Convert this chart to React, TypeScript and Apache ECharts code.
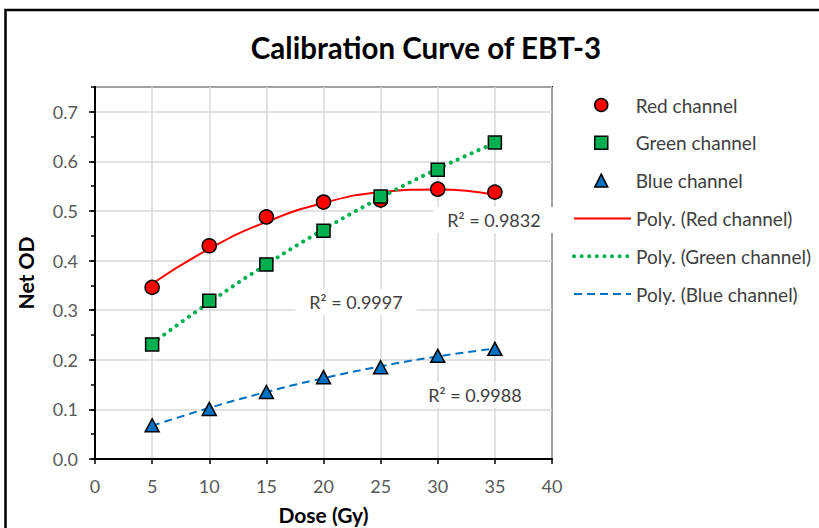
import React, { useEffect, useRef } from "react";
import * as echarts from "echarts";

const doses = [5, 10, 15, 20, 25, 30, 35];
const redValues = [0.346, 0.430, 0.488, 0.518, 0.522, 0.544, 0.538];
const greenValues = [0.231, 0.319, 0.392, 0.460, 0.529, 0.583, 0.638];
const blueValues = [0.068, 0.101, 0.135, 0.165, 0.185, 0.208, 0.222];
const xTicks = [0, 5, 10, 15, 20, 25, 30, 35, 40];
const yTickLabels = ["0.0", "0.1", "0.2", "0.3", "0.4", "0.5", "0.6", "0.7"];
const seriesNames = ["Red channel", "Green channel", "Blue channel"];
const trendNames = ["Poly. (Red channel)", "Poly. (Green channel)", "Poly. (Blue channel)"];
const r2Labels = ["R² = 0.9832", "R² = 0.9997", "R² = 0.9988"];

// least-squares quadratic fit (Excel "Poly." order 2 trendline), evaluated at the doses
function quadFit(xs: number[], ys: number[]): number[] {
  const n = xs.length;
  let s1 = 0, s2 = 0, s3 = 0, s4 = 0, t0 = 0, t1 = 0, t2 = 0;
  for (let i = 0; i < n; i++) {
    const x = xs[i], y = ys[i];
    s1 += x; s2 += x * x; s3 += x * x * x; s4 += x * x * x * x;
    t0 += y; t1 += x * y; t2 += x * x * y;
  }
  const M = [
    [n, s1, s2, t0],
    [s1, s2, s3, t1],
    [s2, s3, s4, t2],
  ];
  for (let c = 0; c < 3; c++) {
    let p = c;
    for (let r = c + 1; r < 3; r++) if (Math.abs(M[r][c]) > Math.abs(M[p][c])) p = r;
    [M[c], M[p]] = [M[p], M[c]];
    for (let r = 0; r < 3; r++) {
      if (r === c) continue;
      const f = M[r][c] / M[c][c];
      for (let k = c; k < 4; k++) M[r][k] -= f * M[c][k];
    }
  }
  const a = M[0][3] / M[0][0], b = M[1][3] / M[1][1], cc = M[2][3] / M[2][2];
  return xs.map((x) => a + b * x + cc * x * x);
}

const FONT = "Lato, 'Noto Sans', sans-serif";

export default function App() {
  const ref = useRef<HTMLDivElement>(null);
  useEffect(() => {
    if (!ref.current) return;
    const chart = echarts.init(ref.current, undefined, { renderer: "svg" });
    const pair = (vals: number[]) => doses.map((d, i) => [d, vals[i]]);
    const redFit = quadFit(doses, redValues);
    const greenFit = quadFit(doses, greenValues);
    const blueFit = quadFit(doses, blueValues);

    const r2Style = {
      fill: "#404040",
      fontSize: 18,
      fontFamily: FONT,
      backgroundColor: "#ffffff",
      padding: [4, 14, 4, 14],
      align: "center",
      verticalAlign: "middle",
    };

    const hiddenSymbol = {
      color: "rgba(0,0,0,0)",
      borderColor: "rgba(0,0,0,0)",
      borderWidth: 0,
      opacity: 0,
    };
    const redLine = { color: "#ff0000", width: 2 };
    const greenLine = { color: "#00b050", width: 4, type: [0.1, 7.5], cap: "round" };
    const blueLine = { color: "#0070c0", width: 2, type: [8, 5] };
    const trendLines = [redLine, greenLine, blueLine];

    const legendText = { fontSize: 19, color: "#404040", lineHeight: 19, fontFamily: FONT };
    const ROW = 37.8;
    const LEGEND_TOP = 95.5;

    chart.setOption({
      animation: false,
      backgroundColor: "#ffffff",
      textStyle: { fontFamily: FONT },
      title: {
        text: "Calibration Curve of EBT-3",
        left: 421,
        top: 27,
        textAlign: "center",
        textStyle: { fontSize: 29.5, fontWeight: "bold", color: "#000000", fontFamily: FONT },
      },
      legend: [
        {
          orient: "vertical",
          left: 594,
          top: LEGEND_TOP,
          padding: 0,
          itemWidth: 13,
          itemHeight: 13,
          itemGap: ROW - 19,
          itemStyle: { borderColor: "#000000", borderWidth: 1.5 },
          textStyle: { ...legendText, padding: [0, 0, 0, 23] },
          data: seriesNames,
        },
        {
          orient: "vertical",
          left: 572,
          top: LEGEND_TOP + 3 * ROW,
          padding: 0,
          itemWidth: 57,
          itemHeight: 13,
          itemGap: ROW - 19,
          textStyle: { ...legendText },
          data: trendNames.map((name, i) => ({ name, itemStyle: hiddenSymbol, lineStyle: trendLines[i] })),
        },
      ],
      grid: {
        left: 95,
        right: 267,
        top: 87,
        bottom: 69,
        show: true,
        borderColor: "#000000",
        borderWidth: 2,
        backgroundColor: "transparent",
        outerBoundsMode: "none",
        containLabel: false,
      },
      xAxis: {
        type: "value",
        min: xTicks[0],
        max: xTicks[xTicks.length - 1],
        interval: 5,
        name: "Dose (Gy)",
        nameLocation: "middle",
        nameGap: 45,
        nameTextStyle: { fontSize: 21, fontWeight: "bold", color: "#000000", fontFamily: FONT },
        axisLine: { show: true, lineStyle: { color: "#000000", width: 2 } },
        axisTick: { show: true, length: 5, lineStyle: { color: "#000000", width: 1.5 } },
        axisLabel: { fontSize: 18, color: "#595959", margin: 18, fontFamily: FONT },
        splitLine: { show: true, lineStyle: { color: "#d9d9d9", width: 1.5 } },
      },
      yAxis: [
        {
          type: "value",
          min: 0,
          max: 0.75,
          interval: 0.1,
          name: "Net OD",
          nameLocation: "middle",
          nameGap: 59,
          nameRotate: 90,
          nameTextStyle: { fontSize: 21, fontWeight: "bold", color: "#000000", fontFamily: FONT },
          axisLine: { show: true, lineStyle: { color: "#000000", width: 2 } },
          axisTick: { show: true, length: 6, lineStyle: { color: "#000000", width: 1.5 } },
          axisLabel: {
            fontSize: 18,
            color: "#595959",
            margin: 17,
            fontFamily: FONT,
            showMaxLabel: false,
            formatter: (v: number) => {
              const idx = Math.round(v * 10);
              return Math.abs(v * 10 - idx) < 1e-6 && idx < yTickLabels.length ? yTickLabels[idx] : "";
            },
          },
          splitLine: { show: true, lineStyle: { color: "#d9d9d9", width: 1.5 } },
        },
        {
          type: "value",
          min: 0,
          max: 0.75,
          interval: 0.05,
          position: "left",
          axisLine: { show: false },
          axisTick: { show: true, length: 4, lineStyle: { color: "#000000", width: 1.5 } },
          axisLabel: { show: false },
          splitLine: { show: false },
        },
      ],
      series: [
        {
          name: trendNames[0],
          type: "line",
          data: pair(redFit),
          smooth: 0.5,
          symbol: "none",
          lineStyle: redLine,
          itemStyle: { color: "#ff0000" },
          z: 2,
        },
        {
          name: trendNames[1],
          type: "line",
          data: pair(greenFit),
          smooth: 0.5,
          symbol: "none",
          lineStyle: greenLine,
          itemStyle: { color: "#00b050" },
          z: 2,
        },
        {
          name: trendNames[2],
          type: "line",
          data: pair(blueFit),
          smooth: 0.5,
          symbol: "none",
          lineStyle: blueLine,
          itemStyle: { color: "#0070c0" },
          z: 2,
        },
        {
          name: seriesNames[0],
          type: "scatter",
          data: pair(redValues),
          symbol: "circle",
          symbolSize: 14,
          itemStyle: { color: "#ff0000", borderColor: "#000000", borderWidth: 1.5, opacity: 1 },
          z: 5,
        },
        {
          name: seriesNames[1],
          type: "scatter",
          data: pair(greenValues),
          symbol: "rect",
          symbolSize: 13,
          itemStyle: { color: "#00b050", borderColor: "#000000", borderWidth: 1.5, opacity: 1 },
          z: 5,
        },
        {
          name: seriesNames[2],
          type: "scatter",
          data: pair(blueValues),
          symbol: "triangle",
          symbolSize: [14, 13],
          itemStyle: { color: "#0070c0", borderColor: "#000000", borderWidth: 1.5, opacity: 1 },
          z: 5,
        },
      ],
      graphic: [
        {
          type: "rect",
          shape: { x: 5.5, y: 10, width: 830, height: 600 },
          style: { fill: "none", stroke: "#000000", lineWidth: 2.5 },
          silent: true,
          z: 0,
        },
        { type: "text", x: 494, y: 220, z: 10, style: { text: r2Labels[0], ...r2Style } },
        { type: "text", x: 356, y: 302, z: 10, style: { text: r2Labels[1], ...r2Style } },
        { type: "text", x: 475, y: 395, z: 10, style: { text: r2Labels[2], ...r2Style } },
      ],
    });
    return () => chart.dispose();
  }, []);
  return (
    <div
      ref={ref}
      style={{ position: "absolute", left: 0, top: 0, width: 819, height: 528, background: "#ffffff" }}
    />
  );
}
